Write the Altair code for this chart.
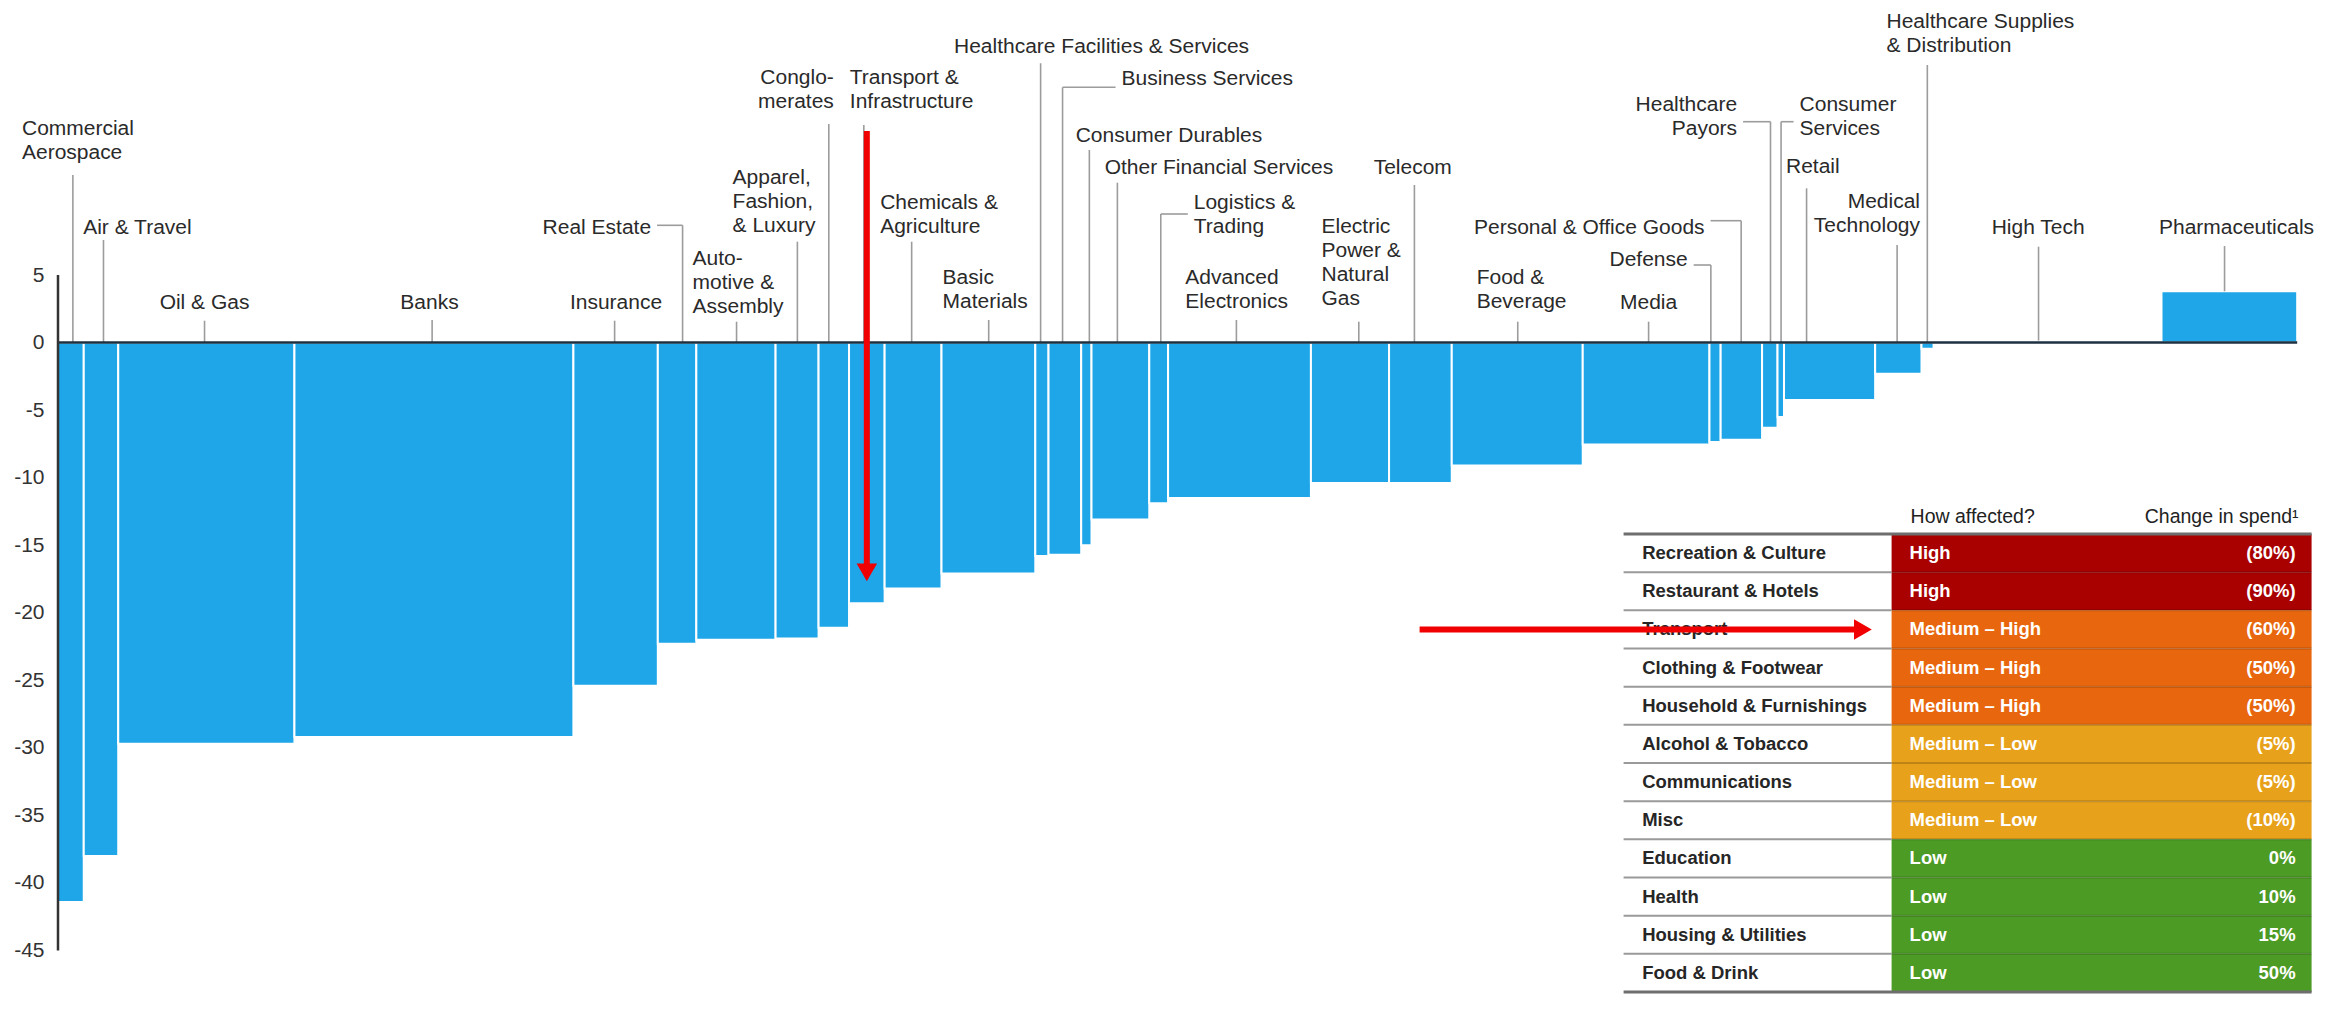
import altair as alt
import pandas as pd

# ---------------- data ----------------
sectors = ["Commercial Aerospace", "Air & Travel", "Oil & Gas", "Banks", "Insurance", "Real Estate",
           "Automotive & Assembly", "Apparel, Fashion & Luxury", "Conglomerates",
           "Transport & Infrastructure", "Chemicals & Agriculture", "Basic Materials",
           "Healthcare Facilities & Services", "Business Services", "Consumer Durables",
           "Other Financial Services", "Logistics & Trading", "Advanced Electronics",
           "Electric Power & Natural Gas", "Telecom", "Food & Beverage", "Media", "Defense",
           "Personal & Office Goods", "Healthcare Payors", "Consumer Services", "Retail",
           "Medical Technology", "Healthcare Supplies & Distribution", "High Tech", "Pharmaceuticals"]
widths = [11.5, 15.4, 78.7, 124.6, 37.7, 17.2, 35.4, 19.2, 13.6, 15.9, 25.4, 41.9, 5.9, 14.6, 4.6,
          25.8, 8.4, 63.8, 34.9, 28.0, 58.5, 56.6, 5.0, 18.5, 6.9, 2.9, 40.7, 20.7, 5.4, 101.8, 60.6]
values = [-41.4, -38.0, -29.7, -29.2, -25.4, -22.3, -22.0, -21.9, -21.1, -19.3, -18.2, -17.1, -15.8,
          -15.7, -15.0, -13.1, -11.9, -11.5, -10.4, -10.4, -9.1, -7.55, -7.35, -7.2, -6.3, -5.5,
          -4.25, -2.3, -0.45, 0.15, 3.8]
label_texts = ["Commercial\nAerospace", "Air & Travel", "Oil & Gas", "Banks", "Insurance", "Real Estate",
               "Auto-\nmotive &\nAssembly", "Apparel,\nFashion,\n& Luxury", "Conglo-\nmerates",
               "Transport &\nInfrastructure", "Chemicals &\nAgriculture", "Basic\nMaterials",
               "Healthcare Facilities & Services", "Business Services", "Consumer Durables",
               "Other Financial Services", "Logistics &\nTrading", "Advanced\nElectronics",
               "Electric\nPower &\nNatural\nGas", "Telecom", "Food &\nBeverage", "Media", "Defense",
               "Personal & Office Goods", "Healthcare\nPayors", "Consumer\nServices", "Retail",
               "Medical\nTechnology", "Healthcare Supplies\n& Distribution", "High Tech", "Pharmaceuticals"]
y_ticks = [5, 0, -5, -10, -15, -20, -25, -30, -35, -40, -45]
highlight_sector = "Transport & Infrastructure"

table_cats = ["Recreation & Culture", "Restaurant & Hotels", "Transport", "Clothing & Footwear",
              "Household & Furnishings", "Alcohol & Tobacco", "Communications", "Misc", "Education",
              "Health", "Housing & Utilities", "Food & Drink"]
table_levels = ["High", "High", "Medium – High", "Medium – High", "Medium – High", "Medium – Low",
                "Medium – Low", "Medium – Low", "Low", "Low", "Low", "Low"]
table_change = ["(80%)", "(90%)", "(60%)", "(50%)", "(50%)", "(5%)", "(5%)", "(10%)", "0%", "10%",
                "15%", "50%"]
table_headers = ["How affected?", "Change in spend¹"]
highlight_row = "Transport"
level_order = ["High", "Medium – High", "Medium – Low", "Low"]

# ---------------- layout / style ----------------
FONT = "Liberation Sans"
BLUE = "#1EA6E9"
RED = "#F00000"
level_colors = ["#A90000", "#E8660D", "#E7A11A", "#4C9B24"]

Y0_PAGE = 342.6        # page y of the zero line
PPU = 13.51            # px per y unit
PLOT_TOP = 10          # page y of plot top
PLOT_LEFT = 57.4       # page x of plot left
PLOT_H = 983
PLOT_W = 2239.2
TOTAL = sum(widths)
PXU = PLOT_W / TOTAL
Y_MAX = (Y0_PAGE - PLOT_TOP) / PPU
Y_MIN = Y_MAX - PLOT_H / PPU


def ydata(page_y):
    return (Y0_PAGE - page_y) / PPU


# (align, text dx px from bar centre, first-line centre page y, leader top page y, hook?, leader dx px)
label_layout = [
    ("left", -48.9, 128, 175, False, 2), ("left", -17.8, 226.7, 240, False, 2.5),
    ("center", -1.8, 301.7, 320.7, False, -1.8), ("center", -4.4, 301.7, 320, False, -1.8),
    ("center", 0.4, 301.7, 320.7, False, -1), ("right", -26, 226.7, 225.3, True, 5.5),
    ("left", -43.4, 258, 321.7, False, 0.6), ("left", -64.5, 176.7, 241.7, False, 0.3),
    ("right", 0, 76.7, 124, False, -5), ("left", -17, 76.7, 125, False, -3),
    ("left", -32.9, 201.7, 241.7, False, -1.4), ("left", -45.8, 276.7, 320, False, 0.3),
    ("left", -87.9, 46, 63.3, False, -1.3), ("left", 56.7, 78.3, 87.3, True, -2.3),
    ("left", -10.7, 135, 150, False, 3), ("left", -15.7, 166.7, 182.7, False, -3),
    ("left", 35.1, 201.7, 214, True, 2.1), ("left", -54.2, 276.7, 320, False, -3.1),
    ("left", -28.5, 226, 321.7, False, 8.8), ("left", -46.7, 166.7, 185, False, -6),
    ("left", -40.6, 276.7, 321.7, False, 0.5), ("center", 2.5, 301.7, 321.7, False, 2.5),
    ("right", -27.4, 259.3, 265, True, -4.2), ("right", -36.8, 226.7, 220.7, True, -0.2),
    ("right", -32.7, 104, 121.7, True, 0.7), ("left", 18.8, 104, 121.7, True, 0.3),
    ("left", -43.6, 166, 188.3, False, -23), ("right", 21.7, 200.7, 245, False, -1.2),
    ("left", -41, 20.7, 65, False, -0.2), ("center", -9.4, 226.7, 246.7, False, -9),
    ("center", 7.2, 226.7, 246, False, -4.8),
]

# ---------------- derived tables ----------------
bars_df = pd.DataFrame({"sector": sectors, "width": widths, "value": values})
bars_df["x1"] = bars_df["width"].cumsum()
bars_df["x0"] = bars_df["x1"] - bars_df["width"]
bars_df["mid"] = (bars_df["x0"] + bars_df["x1"]) / 2
bars_df["base"] = 0.0

lab_rows, lead_rows, hook_rows = [], [], []
GAP = 6
for i, (al, dx, yc, ltop, hook, ldx) in enumerate(label_layout):
    mid = bars_df.loc[i, "mid"]
    val = bars_df.loc[i, "value"]
    tx = mid + dx / PXU
    lx = mid + ldx / PXU
    lab_rows.append({"text": label_texts[i], "align": al, "tx": tx, "ty": ydata(yc - 10)})
    lead_rows.append({"x": lx, "y": ydata(ltop), "y2": max(val, 0.0)})
    if hook:
        end = tx + (GAP / PXU if al == "right" else -GAP / PXU)
        hook_rows.append({"x": min(lx, end), "x2": max(lx, end), "y": ydata(ltop)})
lab_df = pd.DataFrame(lab_rows)
lead_df = pd.DataFrame(lead_rows)
hook_df = pd.DataFrame(hook_rows)

hl = bars_df[bars_df.sector == highlight_sector].iloc[0]
varrow_df = pd.DataFrame({"x": [hl["mid"]], "y": [ydata(131)], "y2": [ydata(564)], "yh": [ydata(572.3)]})

xscale = alt.Scale(domain=[0, TOTAL], nice=False, zero=False)
yscale = alt.Scale(domain=[Y_MIN, Y_MAX], nice=False, zero=False)

yaxis = alt.Axis(values=y_ticks, domain=False, ticks=False, grid=False, labelFontSize=21,
                 labelFont=FONT, labelColor="#333333", labelPadding=14,
                 labelExpr="'' + datum.value", title=None)


def X(field):
    return alt.X(field, scale=xscale, axis=None)


def Y(field):
    return alt.Y(field, scale=yscale, axis=yaxis)


bars = alt.Chart(bars_df).mark_rect(color=BLUE, stroke="white", strokeWidth=2).encode(
    x=X("x0:Q"), x2="x1:Q", y=Y("value:Q"), y2="base:Q")

zero_df = pd.DataFrame({"x": [0.0], "x2": [TOTAL], "y": [0.0]})
zero_line = alt.Chart(zero_df).mark_rule(color="#1d3040", strokeWidth=2.5).encode(
    x=X("x:Q"), x2="x2:Q", y=Y("y:Q"))

yline_df = pd.DataFrame({"x": [0.0], "y": [max(y_ticks)], "y2": [min(y_ticks)]})
y_line = alt.Chart(yline_df).mark_rule(color="#333333", strokeWidth=2.5).encode(
    x=X("x:Q"), y=Y("y:Q"), y2="y2:Q")

leaders = alt.Chart(lead_df).mark_rule(color="#9c9c9c", strokeWidth=1.6).encode(
    x=X("x:Q"), y=Y("y:Q"), y2="y2:Q")
hooks = alt.Chart(hook_df).mark_rule(color="#9c9c9c", strokeWidth=1.6).encode(
    x=X("x:Q"), x2="x2:Q", y=Y("y:Q"))

label_layers = []
for al in ["left", "center", "right"]:
    label_layers.append(
        alt.Chart(lab_df).transform_filter(alt.datum.align == al).mark_text(
            align=al, baseline="top", fontSize=21, font=FONT, color="#2a2a2a",
            lineBreak="\n", lineHeight=24).encode(
            x=X("tx:Q"), y=Y("ty:Q"), text="text:N"))

v_shaft = alt.Chart(varrow_df).mark_rule(color=RED, strokeWidth=6).encode(
    x=X("x:Q"), y=Y("y:Q"), y2="y2:Q")
v_head = alt.Chart(varrow_df).mark_point(shape="triangle-down", filled=True, color=RED, size=420,
                                          opacity=1).encode(
    x=X("x:Q"), y=Y("yh:Q"))

bar_group = alt.layer(bars, leaders, hooks, zero_line, y_line, *label_layers, v_shaft, v_head)

# ---------------- table ----------------
T_TOP, T_BOT = 534, 992
n = len(table_cats)
tscale = alt.Scale(domain=[0, n], range=[T_TOP - PLOT_TOP, T_BOT - PLOT_TOP], nice=False, zero=False)


def px(page_x):
    return page_x - PLOT_LEFT


def TY(field):
    return alt.Y(field, scale=tscale, axis=None)


table_df = pd.DataFrame({"cat": table_cats, "level": table_levels, "change": table_change})
table_df["y0"] = range(n)
table_df["y1"] = table_df["y0"] + 1
table_df["yc"] = table_df["y0"] + 0.5

cells = alt.Chart(table_df).mark_rect().encode(
    x=alt.value(px(1891)), x2=alt.value(px(2311)),
    y=TY("y0:Q"), y2="y1:Q",
    color=alt.Color("level:N", scale=alt.Scale(domain=level_order, range=level_colors), legend=None))

inner_df = pd.DataFrame({"b": list(range(1, n))})
sep_left = alt.Chart(inner_df).mark_rule(color="#9a9a9a", strokeWidth=2).encode(
    x=alt.value(px(1623)), x2=alt.value(px(1891)), y=TY("b:Q"))
sep_cells = alt.Chart(inner_df).mark_rule(color="#000000", strokeWidth=2, opacity=0.18).encode(
    x=alt.value(px(1891)), x2=alt.value(px(2311)), y=TY("b:Q"))
outer_df = pd.DataFrame({"b": [0, n]})
sep_outer = alt.Chart(outer_df).mark_rule(color="#6e6e6e", strokeWidth=3).encode(
    x=alt.value(px(1623)), x2=alt.value(px(2311)), y=TY("b:Q"))

row_text = alt.Chart(table_df).mark_text(align="left", baseline="middle", fontSize=18.5,
                                          fontWeight="bold", font=FONT, color="#262626").encode(
    x=alt.value(px(1641.6)), y=TY("yc:Q"), text="cat:N")
level_text = alt.Chart(table_df).mark_text(align="left", baseline="middle", fontSize=18.5,
                                            fontWeight="bold", font=FONT, color="white").encode(
    x=alt.value(px(1909)), y=TY("yc:Q"), text="level:N")
change_text = alt.Chart(table_df).mark_text(align="right", baseline="middle", fontSize=18.5,
                                             fontWeight="bold", font=FONT, color="white").encode(
    x=alt.value(px(2295)), y=TY("yc:Q"), text="change:N")

head_df = pd.DataFrame({"t": table_headers, "y": [-0.45, -0.45]})
head_left = alt.Chart(head_df.iloc[[0]]).mark_text(align="left", baseline="middle", fontSize=19.5,
                                                   font=FONT, color="#222222").encode(
    x=alt.value(px(1910)), y=TY("y:Q"), text="t:N")
head_right = alt.Chart(head_df.iloc[[1]]).mark_text(align="right", baseline="middle", fontSize=19.5,
                                                    font=FONT, color="#222222").encode(
    x=alt.value(px(2298)), y=TY("y:Q"), text="t:N")

harrow_df = table_df[table_df.cat == highlight_row][["yc"]]
h_shaft = alt.Chart(harrow_df).mark_rule(color=RED, strokeWidth=6).encode(
    x=alt.value(px(1419)), x2=alt.value(px(1856)), y=TY("yc:Q"))
h_head = alt.Chart(harrow_df).mark_point(shape="triangle-right", filled=True, color=RED, size=420,
                                         opacity=1).encode(
    x=alt.value(px(1871 - 8.7)), y=TY("yc:Q"))

table_group = alt.layer(cells, sep_left, sep_cells, sep_outer, row_text, level_text, change_text,
                        head_left, head_right, h_shaft, h_head)

chart = alt.layer(bar_group, table_group).resolve_scale(y="independent").properties(
    width=PLOT_W, height=PLOT_H,
    padding={"left": 5, "top": 2, "right": 0, "bottom": 0},
    background="white",
).configure_view(stroke=None)

chart.save("out.html", embed_options={"renderer": "svg", "actions": False})
